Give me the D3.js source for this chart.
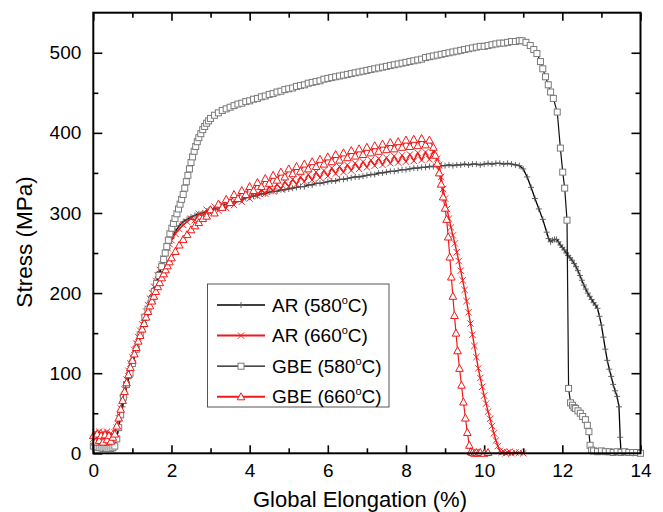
<!DOCTYPE html>
<html>
<head>
<meta charset="utf-8">
<script src="https://cdn.jsdelivr.net/npm/d3@7"></script>
<style>
  body { margin: 0; background: #fff; }
  svg text { font-family: "Liberation Sans", Arial, sans-serif; }
</style>
</head>
<body>
<svg id="chart" width="663" height="512"></svg>
<script>
// stress-strain data: [elongation %, stress MPa]
var ar580 = [[0,10],[0.05,9],[0.1,8],[0.15,8],[0.2,7],[0.25,7],[0.3,7],[0.35,7],[0.4,6],[0.45,6],[0.5,7],[0.55,10],
  [0.6,20],[0.65,33],[0.7,45],[0.75,58],[0.8,70],[0.85,82],[0.9,93],[0.95,103],[1.0,112],[1.05,121],[1.1,130],[1.15,139],
  [1.2,147],[1.25,155],[1.3,163],[1.35,172],[1.4,180],[1.45,188],[1.5,196],[1.55,204],[1.6,212],[1.65,220],[1.7,227],
  [1.75,235],[1.8,242],[1.85,249],[1.9,256],[1.95,262],[2.0,268],[2.1,277],[2.2,284],[2.3,289],[2.4,292],[2.5,295],
  [2.6,297],[2.7,299],[2.8,300],[2.9,302],[3.0,303],[3.1,305],[3.2,307],[3.3,309],[3.4,311],[3.5,312],[3.6,314],
  [3.7,316],[3.8,317],[3.9,319],[4.0,320],[4.1,321],[4.2,322],[4.3,324],[4.4,324],[4.5,326],[4.6,327],[4.7,327],
  [4.8,329],[4.9,329],[5.0,330],[5.1,331],[5.2,332],[5.3,333],[5.4,333],[5.5,335],[5.6,335],[5.7,337],[5.8,337],
  [5.9,338],[6.0,339],[6.1,340],[6.2,340],[6.3,342],[6.4,342],[6.5,343],[6.6,344],[6.7,345],[6.8,345],[6.9,346],
  [7.0,347],[7.1,348],[7.2,348],[7.3,350],[7.4,350],[7.5,351],[7.6,352],[7.7,352],[7.8,353],[7.9,354],[8.0,354],
  [8.1,355],[8.2,356],[8.3,356],[8.4,357],[8.5,357],[8.6,358],[8.7,358],[8.8,358],[8.9,359],[9.0,359],[9.1,360],
  [9.2,359],[9.3,360],[9.4,360],[9.5,361],[9.6,360],[9.7,361],[9.8,361],[9.9,360],[10.0,361],[10.1,362],[10.2,361],
  [10.3,362],[10.4,362],[10.5,361],[10.6,362],[10.7,361],[10.8,360],[10.9,359],[11.0,355],[11.1,345],[11.2,332],
  [11.3,318],[11.4,305],[11.5,292],[11.6,276],[11.65,268],[11.7,264],[11.75,266],[11.8,267],[11.85,267],[11.9,264],
  [11.95,260],[12.0,257],[12.05,254],[12.1,250],[12.15,247],[12.2,244],[12.25,241],[12.3,237],[12.35,233],[12.4,228],
  [12.45,222],[12.5,216],[12.55,210],[12.6,205],[12.65,200],[12.7,196],[12.75,192],[12.8,188],[12.85,185],[12.9,181],
  [12.95,171],[13.0,160],[13.05,145],[13.1,130],[13.15,116],[13.2,105],[13.25,96],[13.3,86],[13.35,78],[13.4,71],
  [13.45,58],[13.48,20],[13.5,2],[13.6,1],[13.7,1],[13.8,0]];

var ar660 = [[0,18],[0.05,26],[0.1,20],[0.15,27],[0.2,19],[0.25,26],[0.3,20],[0.35,27],[0.4,19],[0.45,25],[0.5,22],
  [0.55,26],[0.6,32],[0.65,44],[0.7,56],[0.75,68],[0.8,80],[0.85,92],[0.9,103],[0.95,112],[1.0,120],[1.05,129],
  [1.1,137],[1.15,145],[1.2,153],[1.25,161],[1.3,169],[1.35,177],[1.4,185],[1.45,193],[1.5,200],[1.55,208],[1.6,215],
  [1.65,222],[1.7,229],[1.75,236],[1.8,243],[1.85,250],[1.9,256],[1.95,261],[2.0,266],[2.1,274],[2.2,280],[2.3,285],
  [2.4,289],[2.5,293],[2.6,291],[2.7,299],[2.8,296],[2.9,304],[3.0,300],[3.1,308],[3.2,303],[3.3,311],[3.4,306],
  [3.5,315],[3.6,310],[3.7,319],[3.8,314],[3.9,323],[4.0,318],[4.1,326],[4.2,321],[4.3,329],[4.4,324],[4.5,333],
  [4.6,327],[4.7,336],[4.8,330],[4.9,339],[5.0,333],[5.1,342],[5.2,336],[5.3,345],[5.4,339],[5.5,348],[5.6,341],
  [5.7,351],[5.8,344],[5.9,353],[6.0,346],[6.1,356],[6.2,349],[6.3,358],[6.4,351],[6.5,360],[6.6,353],[6.7,362],
  [6.8,355],[6.9,364],[7.0,357],[7.1,366],[7.2,359],[7.3,368],[7.4,360],[7.5,369],[7.6,362],[7.7,371],[7.8,363],
  [7.9,372],[8.0,364],[8.1,373],[8.2,365],[8.3,375],[8.4,366],[8.5,376],[8.6,367],[8.7,377],[8.8,368],[8.85,360],
  [8.9,345],[8.95,330],[9.0,318],[9.05,305],[9.1,293],[9.15,282],[9.2,272],[9.25,262],[9.3,251],[9.35,240],[9.4,228],
  [9.45,216],[9.5,204],[9.55,190],[9.6,176],[9.65,162],[9.7,148],[9.75,134],[9.8,120],[9.85,106],[9.9,94],[9.95,83],
  [10.0,72],[10.05,62],[10.1,52],[10.15,43],[10.2,34],[10.25,25],[10.3,16],[10.35,9],[10.4,3],[10.45,1],[10.5,2],
  [10.55,0],[10.6,1],[10.65,2],[10.7,0],[10.8,1],[10.9,1],[11.0,0]];

var gbe580 = [[0,9],[0.05,8],[0.1,8],[0.15,7],[0.2,7],[0.25,6],[0.3,7],[0.35,6],[0.4,6],[0.45,6],[0.5,7],[0.55,9],
  [0.6,18],[0.65,32],[0.7,48],[0.77,70],[0.85,86],[0.94,100],[1.0,112],[1.1,130],[1.2,148],[1.32,170],[1.4,180],
  [1.5,192],[1.56,202],[1.62,212],[1.68,222],[1.75,233],[1.8,242],[1.84,250],[1.88,258],[1.92,266],[1.96,274],
  [2.01,281],[2.05,287],[2.09,293],[2.14,299],[2.18,305],[2.22,311],[2.26,317],[2.3,323],[2.34,331],[2.38,339],
  [2.42,347],[2.46,355],[2.5,363],[2.54,370],[2.58,377],[2.62,383],[2.66,389],[2.7,394],[2.75,399],[2.8,404],
  [2.85,408],[2.9,412],[2.95,415],[3.0,418],[3.1,422],[3.2,425],[3.3,428],[3.4,430],[3.5,432],[3.6,434],[3.7,436],
  [3.8,437],[3.9,439],[4.0,440],[4.1,442],[4.2,443],[4.3,445],[4.4,446],[4.5,448],[4.6,449],[4.7,451],[4.8,452],
  [4.9,454],[5.0,455],[5.1,456],[5.2,458],[5.3,459],[5.4,460],[5.5,462],[5.6,463],[5.7,464],[5.8,465],[5.9,467],
  [6.0,468],[6.1,469],[6.2,470],[6.3,471],[6.4,472],[6.5,473],[6.6,474],[6.7,475],[6.8,476],[6.9,477],[7.0,478],
  [7.1,479],[7.2,480],[7.3,481],[7.4,482],[7.5,483],[7.6,484],[7.7,485],[7.8,486],[7.9,487],[8.0,488],[8.1,489],
  [8.2,490],[8.3,491],[8.4,492],[8.5,494],[8.6,495],[8.7,496],[8.8,497],[8.9,498],[9.0,499],[9.1,500],[9.2,501],
  [9.3,502],[9.4,503],[9.5,504],[9.6,505],[9.7,506],[9.8,507],[9.9,508],[10.0,508],[10.1,509],[10.2,510],[10.3,511],
  [10.4,512],[10.5,512],[10.6,513],[10.7,514],[10.8,514],[10.9,515],[10.97,515],[11.07,513],[11.18,509],[11.27,504],
  [11.35,499],[11.44,489],[11.5,480],[11.57,470],[11.64,460],[11.7,451],[11.77,443],[11.87,426],[11.95,381],
  [12.01,351],[12.06,331],[12.12,291],[12.16,81],[12.21,63],[12.26,60],[12.3,57],[12.34,56],[12.4,53],[12.46,50],
  [12.52,46],[12.59,42],[12.64,35],[12.68,27],[12.71,10],[12.75,4],[12.8,3],[12.9,2],[13.0,3],[13.1,2],[13.2,2],
  [13.3,1],[13.4,2],[13.5,1],[13.6,2],[13.7,1],[13.8,1],[13.9,1],[14.0,0]];

var gbe660 = [[0,22],[0.05,14],[0.1,24],[0.15,16],[0.2,22],[0.25,14],[0.3,23],[0.35,17],[0.4,22],[0.45,15],[0.5,20],
  [0.55,24],[0.6,34],[0.65,44],[0.7,55],[0.75,66],[0.8,77],[0.85,88],[0.9,98],[0.95,107],[1.0,116],[1.05,124],
  [1.1,132],[1.15,140],[1.2,147],[1.25,155],[1.3,162],[1.35,170],[1.4,177],[1.45,184],[1.5,190],[1.55,196],[1.6,202],
  [1.65,208],[1.7,213],[1.75,219],[1.8,224],[1.85,229],[1.9,234],[1.95,239],[2.0,244],[2.1,252],[2.2,260],[2.3,267],
  [2.4,273],[2.5,279],[2.6,284],[2.7,288],[2.8,293],[2.9,296],[3.0,304],[3.1,300],[3.2,311],[3.3,307],[3.4,317],
  [3.5,313],[3.6,323],[3.7,318],[3.8,328],[3.9,323],[4.0,333],[4.1,328],[4.2,338],[4.3,333],[4.4,343],[4.5,337],
  [4.6,347],[4.7,341],[4.8,351],[4.9,345],[5.0,355],[5.1,349],[5.2,358],[5.3,352],[5.4,361],[5.5,355],[5.6,364],
  [5.7,358],[5.8,367],[5.9,361],[6.0,370],[6.1,364],[6.2,373],[6.3,366],[6.4,375],[6.5,369],[6.6,378],[6.7,371],
  [6.8,380],[6.9,373],[7.0,382],[7.1,375],[7.2,384],[7.3,377],[7.4,386],[7.5,379],[7.6,388],[7.7,380],[7.8,389],
  [7.9,382],[8.0,391],[8.1,383],[8.2,392],[8.3,384],[8.4,393],[8.5,385],[8.6,391],[8.7,382],[8.75,372],[8.8,362],
  [8.85,350],[8.9,336],[8.95,320],[9.0,306],[9.04,292],[9.08,270],[9.12,245],[9.16,220],[9.2,196],[9.24,172],
  [9.28,150],[9.32,128],[9.37,106],[9.42,85],[9.47,64],[9.52,44],[9.57,26],[9.62,10],[9.66,2],[9.7,1],[9.75,0],
  [9.8,1],[9.85,0],[9.9,1],[10.0,0],[10.1,1]];

var legendLabels = ["AR (580", "AR (660", "GBE (580", "GBE (660"];

var width = 663,
    height = 512,
    margin = { top: 12.7, right: 22.5, bottom: 58.7, left: 93.3 };

var red = "#f01818";

var svg = d3.select("#chart");

var x = d3.scaleLinear().domain([0, 14]).range([margin.left, width - margin.right]);
var y = d3.scaleLinear().domain([0, 550]).range([height - margin.bottom, margin.top]);

var line = d3.line()
    .x(function (d) { return x(d[0]); })
    .y(function (d) { return y(d[1]); });

// axes, ticks pointing inward on all four sides
function styleAxis(g) {
    g.select(".domain").remove();
    g.selectAll(".tick line").attr("stroke", "#000").attr("stroke-width", 1.6);
    g.selectAll(".tick text").attr("fill", "#000").style("font-size", "19px");
}

var xMajor = d3.range(0, 15, 2),
    xMinor = d3.range(1, 14, 2),
    yMajor = d3.range(0, 600, 100),
    yMinor = d3.range(50, 550, 100);

var yb = height - margin.bottom, yt = margin.top;
var xl = margin.left, xr = width - margin.right;

svg.append("g").attr("transform", "translate(0," + yb + ")")
    .call(d3.axisBottom(x).tickValues(xMajor).tickSize(-8).tickPadding(10).tickFormat(d3.format("d")))
    .call(styleAxis);
svg.append("g").attr("transform", "translate(0," + yb + ")")
    .call(d3.axisBottom(x).tickValues(xMinor).tickSize(-5).tickFormat(""))
    .call(styleAxis);
svg.append("g").attr("transform", "translate(0," + yt + ")")
    .call(d3.axisTop(x).tickValues(xMajor).tickSize(-8).tickFormat(""))
    .call(styleAxis);
svg.append("g").attr("transform", "translate(0," + yt + ")")
    .call(d3.axisTop(x).tickValues(xMinor).tickSize(-5).tickFormat(""))
    .call(styleAxis);

svg.append("g").attr("transform", "translate(" + xl + ",0)")
    .call(d3.axisLeft(y).tickValues(yMajor).tickSize(-9).tickPadding(12).tickFormat(d3.format("d")))
    .call(styleAxis);
svg.append("g").attr("transform", "translate(" + xl + ",0)")
    .call(d3.axisLeft(y).tickValues(yMinor).tickSize(-5).tickFormat(""))
    .call(styleAxis);
svg.append("g").attr("transform", "translate(" + xr + ",0)")
    .call(d3.axisRight(y).tickValues(yMajor).tickSize(-9).tickFormat(""))
    .call(styleAxis);
svg.append("g").attr("transform", "translate(" + xr + ",0)")
    .call(d3.axisRight(y).tickValues(yMinor).tickSize(-5).tickFormat(""))
    .call(styleAxis);

// markers
function drawMarker(g, kind, color) {
    if (kind == "plus") {
        g.append("path").attr("d", "M-3,0H3M0,-3V3").attr("stroke", "#555").attr("stroke-width", 0.9).attr("fill", "none");
    } else if (kind == "cross") {
        g.append("path").attr("d", "M-3.2,-3.2L3.2,3.2M-3.2,3.2L3.2,-3.2").attr("stroke", color).attr("stroke-width", 0.9).attr("fill", "none");
    } else if (kind == "square") {
        g.append("rect").attr("x", -3).attr("y", -3).attr("width", 6).attr("height", 6)
            .attr("fill", "#fff").attr("stroke", "#7a7a7a").attr("stroke-width", 1);
    } else if (kind == "triangle") {
        g.append("path").attr("d", "M0,-4L3.8,3L-3.8,3Z").attr("fill", "#fff").attr("stroke", color).attr("stroke-width", 1);
    }
}

var series = [
    { data: ar580, color: "#000", width: 1.3, marker: "plus" },
    { data: ar660, color: red, width: 1.4, marker: "cross" },
    { data: gbe580, color: "#111", width: 1.2, marker: "square" },
    { data: gbe660, color: red, width: 1.2, marker: "triangle" }
];

var plot = svg.append("g");

series.forEach(function (s) {
    var g = plot.append("g");
    g.append("path")
        .datum(s.data)
        .attr("d", line)
        .attr("fill", "none")
        .attr("stroke", s.color)
        .attr("stroke-width", s.width);
    g.selectAll("g.pt")
        .data(s.data)
        .enter()
        .append("g")
        .attr("class", "pt")
        .attr("transform", function (d) { return "translate(" + x(d[0]) + "," + y(d[1]) + ")"; })
        .each(function () { drawMarker(d3.select(this), s.marker, s.color); });
});

// frame
svg.append("rect")
    .attr("x", xl).attr("y", yt)
    .attr("width", xr - xl).attr("height", yb - yt)
    .attr("fill", "none").attr("stroke", "#000").attr("stroke-width", 2);

// axis titles
svg.append("text")
    .attr("x", 360).attr("y", 507)
    .attr("text-anchor", "middle")
    .style("font-size", "22px")
    .text("Global Elongation (%)");

svg.append("text")
    .attr("transform", "translate(31.5,242) rotate(-90)")
    .attr("text-anchor", "middle")
    .style("font-size", "22.5px")
    .text("Stress (MPa)");

// legend
var legend = svg.append("g");
legend.append("rect")
    .attr("x", 207.5).attr("y", 284)
    .attr("width", 181.5).attr("height", 123)
    .attr("fill", "#fff").attr("stroke", "#555").attr("stroke-width", 1);

series.forEach(function (s, i) {
    var ly = 305 + i * 30.6;
    var row = legend.append("g");
    row.append("line")
        .attr("x1", 217).attr("x2", 265).attr("y1", ly).attr("y2", ly)
        .attr("stroke", s.color).attr("stroke-width", s.color == red ? 2 : 1.3);
    var m = row.append("g").attr("transform", "translate(241," + ly + ")");
    drawMarker(m, s.marker, s.color);
    var t = row.append("text")
        .attr("x", 272).attr("y", ly + 6.5)
        .style("font-size", "19px");
    t.append("tspan").text(legendLabels[i]);
    t.append("tspan").attr("dy", -8).style("font-size", "11px").text("o");
    t.append("tspan").attr("dy", 8).text("C)");
});
</script>
</body>
</html>
